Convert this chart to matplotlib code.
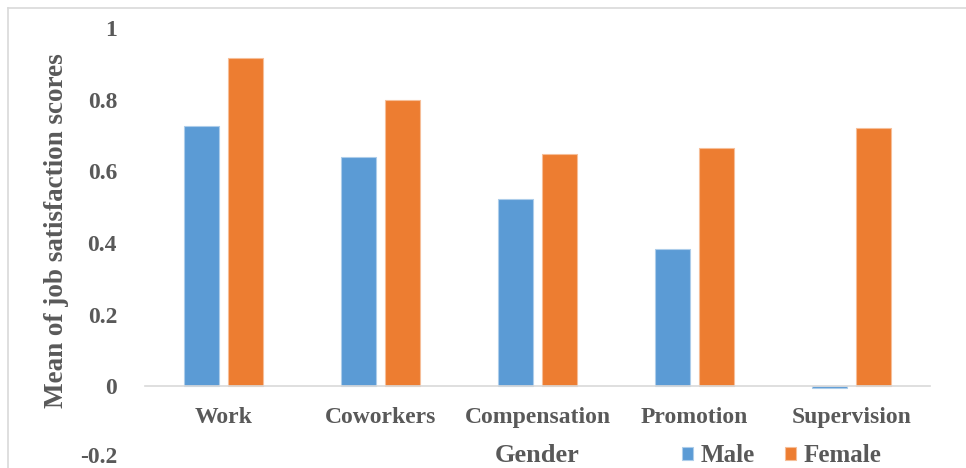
import numpy as np
import matplotlib
matplotlib.use("Agg")
import matplotlib.pyplot as plt
import matplotlib.transforms as mtransforms
from matplotlib.lines import Line2D

# 数据
categories = ["Work", "Coworkers", "Compensation", "Promotion", "Supervision"]
male = [0.727, 0.640, 0.524, 0.384, -0.004]
female = [0.916, 0.800, 0.649, 0.666, 0.721]
yticks = [-0.2, 0, 0.2, 0.4, 0.6, 0.8, 1]
ytick_labels = ["-0.2", "0", "0.2", "0.4", "0.6", "0.8", "1"]

plt.rcParams['font.family'] = ['Liberation Serif', 'DejaVu Serif']
plt.rcParams['font.weight'] = 'bold'
txt = '#595959'
fs = 17

fig = plt.figure(figsize=(9.66, 4.68), dpi=100)
ax = fig.add_axes([0.150, 0.0214, 0.813, 0.9188])

x = np.arange(len(categories))
w = 0.223
off = 0.14
b1 = ax.bar(x - off, male, w, color='#5B9BD5', edgecolor='#ADCDEA', linewidth=0.8, label='Male')
b2 = ax.bar(x + off, female, w, color='#ED7D31', edgecolor='#F6BE98', linewidth=0.8, label='Female')

# 轴线放在 0 处（先设置，否则会重置刻度标签）
for s in ['top', 'right', 'left']:
    ax.spines[s].set_visible(False)
ax.spines['bottom'].set_position(('data', 0))
ax.spines['bottom'].set_color('#D9D9D9')
ax.spines['bottom'].set_linewidth(1.2)

ax.set_xlim(-0.5, 4.5)
ax.set_ylim(-0.2, 1)
ax.set_yticks(yticks)
ax.set_yticklabels(ytick_labels, fontsize=fs, color=txt, fontweight='bold')
ax.set_xticks(x)
ax.set_xticklabels(categories, fontsize=fs, color=txt, fontweight='bold')
ax.tick_params(axis='both', length=0)
ax.tick_params(axis='y', pad=20)
ax.tick_params(axis='x', pad=15)

# 最下面的 -0.2 稍微上移，避免被裁掉
lab = ax.get_yticklabels()[0]
lab.set_transform(lab.get_transform() + mtransforms.ScaledTranslation(0, 3 / 100, fig.dpi_scale_trans))

fig.text(57 / 966, 1 - 231 / 468, "Mean of job satisfaction scores", rotation=90,
         ha='center', va='center', fontsize=19.5, color=txt, fontweight='bold')
fig.text(537 / 966, 1 - 456 / 468, "Gender", ha='center', va='center',
         fontsize=19, color=txt, fontweight='bold')

leg = fig.legend(handles=[b1, b2], loc='center left', bbox_to_anchor=(682 / 966, 1 - 456 / 468),
                 ncol=2, frameon=False, handlelength=0.45, handleheight=0.45, handletextpad=0.3,
                 columnspacing=1.2, borderpad=0, borderaxespad=0,
                 prop={'family': 'Liberation Serif', 'weight': 'bold', 'size': 18})
for t in leg.get_texts():
    t.set_color(txt)

# 外框
fig.add_artist(Line2D([8 / 966, 8 / 966], [0, 1 - 8 / 468], transform=fig.transFigure, color='#D9D9D9', lw=1.2))
fig.add_artist(Line2D([8 / 966, 1], [1 - 8 / 468, 1 - 8 / 468], transform=fig.transFigure, color='#D9D9D9', lw=1.2))

fig.savefig("out.png", dpi=100)
